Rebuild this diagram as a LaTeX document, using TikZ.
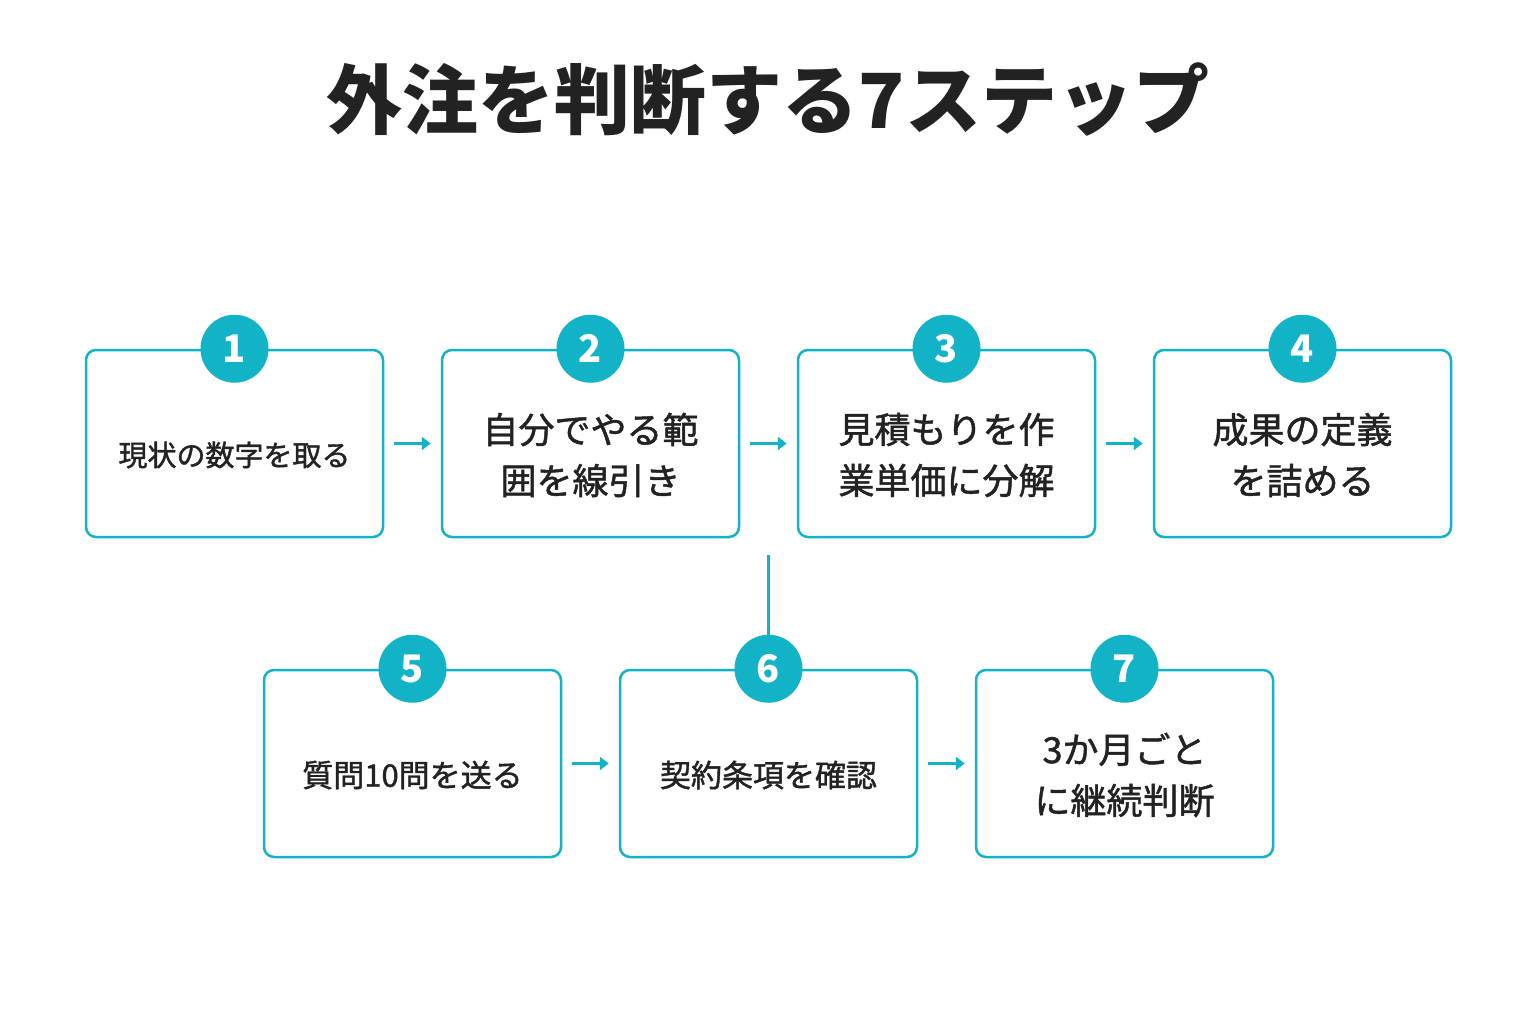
\documentclass[tikz,border=0pt]{standalone}
\usepackage{fontspec}
\setmainfont{Noto Sans CJK JP}
\newfontfamily\med{Noto Sans CJK JP}[FakeBold=1.3]
\usetikzlibrary{arrows.meta}
\definecolor{tl}{HTML}{12B3C6}
\definecolor{tx}{HTML}{222222}
\begin{document}
\begin{tikzpicture}[x=1pt,y=-1pt,
 box/.style={draw=tl,line width=2.5pt,rounded corners=10pt,minimum width=297pt,minimum height=187pt,fill=white},
 lbl/.style={text=tx,align=center,font=\med\fontsize{36}{51}\selectfont},
 num/.style={circle,fill=tl,minimum size=68pt,inner sep=0pt,text=white,font=\fontsize{38}{38}\selectfont\bfseries},
 arr/.style={draw=tl,line width=3pt,-{Triangle[length=9pt,width=13pt]}}]
\fill[white] (0,0) rectangle (1536,1024);
\node[font=\fontsize{76}{76}\selectfont\bfseries,text=tx] (title) at (768,100) {外注を判断する7ステップ};
\draw[tl,line width=3pt] (768,555) -- (768,640);
\node[box] (b1) at (234.5,443.5) {};
\node[box] (b2) at (590.5,443.5) {};
\node[box] (b3) at (946.5,443.5) {};
\node[box] (b4) at (1302.5,443.5) {};
\node[box] (b5) at (412.5,763.5) {};
\node[box] (b6) at (768.5,763.5) {};
\node[box] (b7) at (1124.5,763.5) {};
\node[lbl,font=\med\fontsize{29}{40}\selectfont] (t1) at (234.5,455) {現状の数字を取る};
\node[lbl] (t2) at (590.5,455) {自分でやる範\\囲を線引き};
\node[lbl] (t3) at (946.5,455) {見積もりを作\\業単価に分解};
\node[lbl] (t4) at (1302.5,455) {成果の定義\\を詰める};
\node[lbl,font=\med\fontsize{31}{40}\selectfont] (t5) at (412.5,775) {質問10問を送る};
\node[lbl,font=\med\fontsize{31}{40}\selectfont] (t6) at (768.5,775) {契約条項を確認};
\node[lbl] (t7) at (1124.5,775) {3か月ごと\\に継続判断};
\foreach \i in {1,...,7}{\node[num] (n\i) at (b\i.north) {\i};}
\foreach \a/\b in {1/2,2/3,3/4,5/6,6/7}{
 \draw[arr] ([xshift=10pt]b\a.east) -- ([xshift=-10pt]b\b.west);}
\end{tikzpicture}
\end{document}
